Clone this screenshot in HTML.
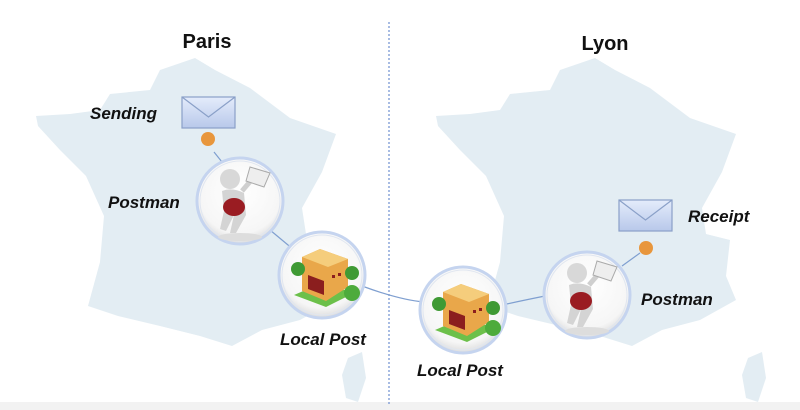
<!DOCTYPE html>
<html><head><style>
html,body{margin:0;padding:0;background:#fff;}
svg{display:block;}
text{font-family:"Liberation Sans",sans-serif;font-weight:bold;fill:#111;}
</style></head><body>
<svg width="800" height="410" viewBox="0 0 800 410">
<defs>
<radialGradient id="cg" cx="50%" cy="40%" r="60%"><stop offset="0" stop-color="#fff"/><stop offset="0.8" stop-color="#f6f6f6"/><stop offset="1" stop-color="#dcdcdc"/></radialGradient>
<linearGradient id="env" x1="0" y1="0" x2="0" y2="1"><stop offset="0" stop-color="#e4ecfb"/><stop offset="1" stop-color="#b8c8ea"/></linearGradient>
<g id="france">
<path d="M195,58 L215,70 L250,88 L290,118 L336,134 L322,172 L302,208 L306,234 L330,240 L326,276 L336,300 L300,320 L262,330 L232,346 L200,336 L160,326 L118,316 L88,306 L100,262 L104,216 L86,176 L60,150 L38,126 L36,116 L70,114 L100,110 L110,94 L150,90 L160,70 Z" fill="#e3edf3"/>
<path d="M348,358 L362,352 L366,378 L358,402 L346,398 L342,375 Z" fill="#e3edf3"/>
</g>
<g id="env1">
<rect x="0" y="0" width="53" height="31" fill="url(#env)" stroke="#8aa0c8" stroke-width="1.2"/>
<path d="M0,0 L26.5,20 L53,0" fill="none" stroke="#8aa0c8" stroke-width="1.2"/>
</g>
<g id="postman">
<circle r="43" fill="url(#cg)" stroke="#c5d4ef" stroke-width="3"/>
<circle r="40" fill="none" stroke="#e0e6f0" stroke-width="1"/>
<ellipse cx="0" cy="36" rx="22" ry="4" fill="#ddd"/>
<circle cx="-10" cy="-22" r="10" fill="#d8d8d8"/>
<path d="M-18,-10 Q-8,-14 4,-8 L6,14 L-4,32 L-10,32 L-6,14 L-14,30 L-20,28 L-16,10 Z" fill="#d4d4d4"/>
<ellipse cx="-6" cy="6" rx="11" ry="9" fill="#9a1c22"/>
<path d="M2,-10 L14,-24" stroke="#cfcfcf" stroke-width="5"/>
<path d="M10,-34 L30,-28 L24,-14 L6,-20 Z" fill="#eee" stroke="#aaa"/>
</g>
<g id="post">
<circle r="43" fill="url(#cg)" stroke="#c5d4ef" stroke-width="3"/>
<circle r="40" fill="none" stroke="#e0e6f0" stroke-width="1"/>
<path d="M-28,20 L4,32 L32,18 L0,8 Z" fill="#6cc04a"/>
<path d="M-20,-18 L-2,-26 L26,-16 L26,12 L4,26 L-20,16 Z" fill="#e9a74a"/>
<path d="M-20,-18 L-2,-26 L26,-16 L6,-8 Z" fill="#f5cd7c"/>
<path d="M-14,0 L2,6 L2,20 L-14,14 Z" fill="#8b1e1e"/>
<rect x="10" y="0" width="3" height="3" fill="#8b1e1e"/><rect x="16" y="-2" width="3" height="3" fill="#8b1e1e"/>
<circle cx="-24" cy="-6" r="7" fill="#3f9a34"/>
<circle cx="30" cy="-2" r="7" fill="#3f9a34"/>
<circle cx="30" cy="18" r="8" fill="#4dab3c"/>
</g>
</defs>
<use href="#france"/>
<use href="#france" transform="translate(400,0)"/>
<rect x="0" y="402" width="800" height="8" fill="#f2f2f2"/>
<line x1="389" y1="22" x2="389" y2="405" stroke="#6e8fd0" stroke-width="1.2" stroke-dasharray="2,2"/>
<g stroke="#7f9fd0" stroke-width="1.2" fill="none">
<line x1="214" y1="152" x2="222" y2="162"/>
<line x1="270" y1="230" x2="300" y2="255"/>
<path d="M362,286 Q400,300 424,302"/>
<path d="M502,305 Q525,300 545,296"/>
<line x1="622" y1="266" x2="640" y2="253"/>
</g>
<text x="207" y="48" font-size="20" text-anchor="middle">Paris</text>
<text x="605" y="50" font-size="20" text-anchor="middle">Lyon</text>
<use href="#env1" x="182" y="97"/>
<use href="#env1" x="619" y="200"/>
<circle cx="208" cy="139" r="7" fill="#e8963c"/>
<circle cx="646" cy="248" r="7" fill="#e8963c"/>
<use href="#postman" x="240" y="201"/>
<use href="#post" x="322" y="275"/>
<use href="#post" x="463" y="310"/>
<use href="#postman" x="587" y="295"/>
<g font-style="italic" font-size="17">
<text x="90" y="119">Sending</text>
<text x="108" y="208">Postman</text>
<text x="280" y="345">Local Post</text>
<text x="417" y="376">Local Post</text>
<text x="641" y="305">Postman</text>
<text x="688" y="222">Receipt</text>
</g>
</svg>
</body></html>
